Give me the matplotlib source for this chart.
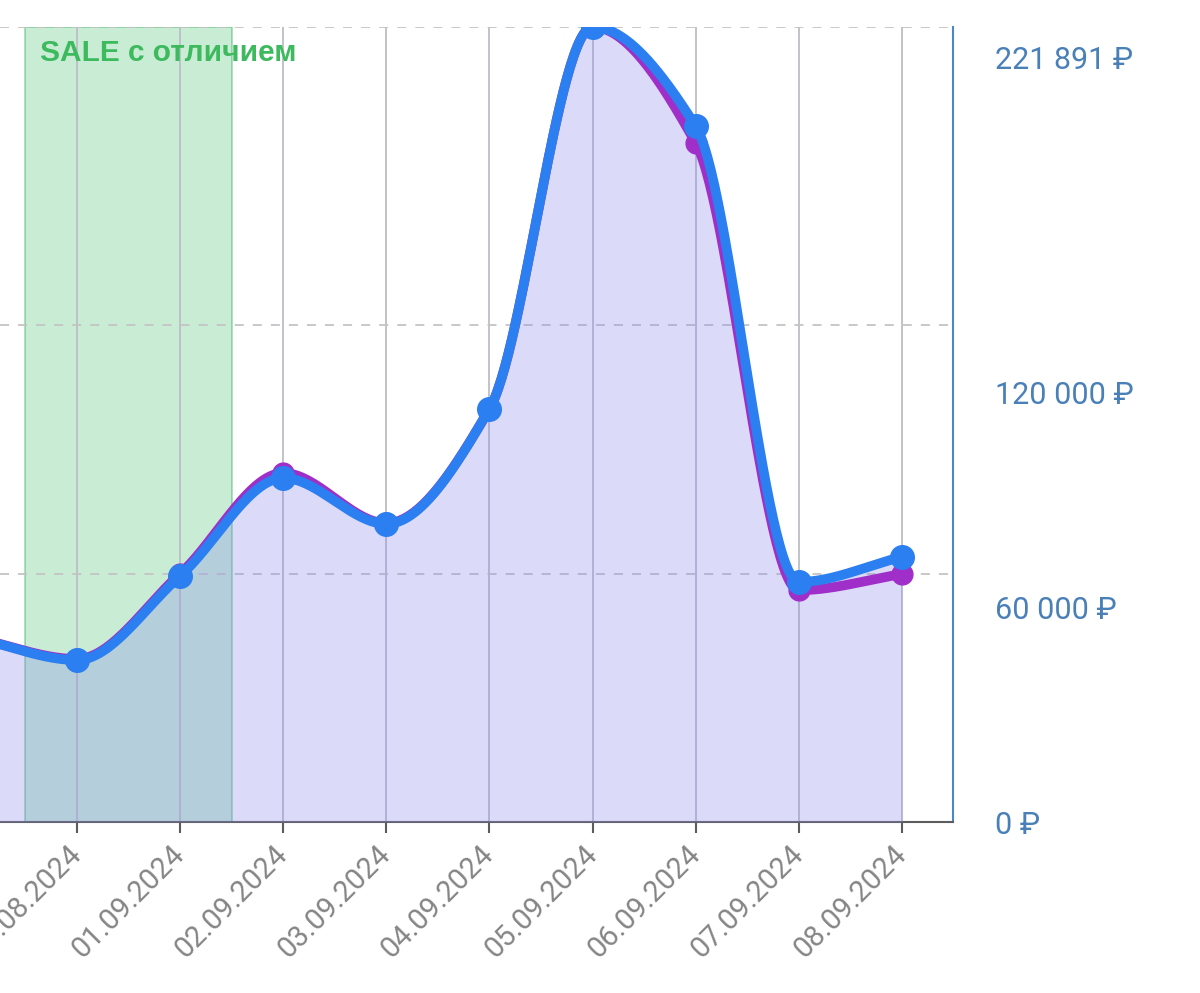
import numpy as np
import matplotlib
matplotlib.use("Agg")
import matplotlib.pyplot as plt

# ---- data ----
dates = ["30.08.2024", "31.08.2024", "01.09.2024", "02.09.2024", "03.09.2024",
         "04.09.2024", "05.09.2024", "06.09.2024", "07.09.2024", "08.09.2024"]
revenue_blue = [51500, 45200, 68700, 96000, 83200, 115300, 221891, 194200, 67000, 74000]
revenue_purple = [51500, 45500, 69300, 97400, 83400, 115300, 221891, 189500, 64700, 69200]
ytick_values = [0, 60000, 120000]
ytick_labels = ["0 ₽", "60 000 ₽", "120 000 ₽"]
ymax_value = 221891
ymax_label = "221 891 ₽"
grid_values = [69300, 138700, 221891]
sale_start, sale_end = "31.08.2024", "01.09.2024"
sale_label = "SALE с отличием"

plt.rcParams['font.family'] = ['Roboto', 'DejaVu Sans']


def monotone_curve(x, y, n=60):
    x = np.asarray(x, float)
    y = np.asarray(y, float)
    h = np.diff(x)
    d = np.diff(y) / h
    m = np.zeros_like(y)
    m[0], m[-1] = d[0], d[-1]
    for k in range(1, len(y) - 1):
        if d[k - 1] * d[k] <= 0:
            m[k] = 0.0
        else:
            w1 = 2 * h[k] + h[k - 1]
            w2 = h[k] + 2 * h[k - 1]
            m[k] = (w1 + w2) / (w1 / d[k - 1] + w2 / d[k])
    xs, ys = [], []
    for k in range(len(h)):
        t = np.linspace(0, 1, n, endpoint=(k == len(h) - 1))
        h00 = 2 * t**3 - 3 * t**2 + 1
        h10 = t**3 - 2 * t**2 + t
        h01 = -2 * t**3 + 3 * t**2
        h11 = t**3 - t**2
        xs.append(x[k] + t * h[k])
        ys.append(h00 * y[k] + h10 * h[k] * m[k] + h01 * y[k + 1] + h11 * h[k] * m[k + 1])
    return np.concatenate(xs), np.concatenate(ys)


fig = plt.figure(figsize=(12, 9.93), dpi=100)
ax = fig.add_axes([0.0, 1 - 822 / 993, 953 / 1200, (822 - 27) / 993])

x = np.arange(len(dates))
i0 = dates.index(sale_start)
i1 = dates.index(sale_end)

# sale region
ax.axvspan(i0 - 0.5, i1 + 0.5, facecolor=(46/255, 184/255, 92/255, 0.26),
           edgecolor=(46/255, 170/255, 92/255, 0.45), lw=1.2, zorder=1)

# grid
for xi in x:
    ax.axvline(xi, color='#bdbdc6', lw=1.3, zorder=2)
for gv in grid_values:
    ax.axhline(gv, color='#c4c4c4', lw=1.3, ls=(0, (5, 5)), zorder=2)

# curves
xb, yb = monotone_curve(x, revenue_blue)
xp, yp = monotone_curve(x, revenue_purple)
ax.fill_between(xb, 0, yb, color=(138/255, 138/255, 238/255, 0.30), lw=0, zorder=3)
ax.plot(xp, yp, color='#a02fc9', lw=7, solid_capstyle='round', zorder=4)
ax.plot(x, revenue_purple, 'o', color='#a02fc9', ms=15, zorder=4)
ax.plot(xb, yb, color='#2b7ff0', lw=7, solid_capstyle='round', zorder=5)
ax.plot(x, revenue_blue, 'o', color='#2b7ff0', ms=17, zorder=5)

ax.set_xlim(0.253, 9.495)
ax.set_ylim(0, ymax_value)

# spines
for s in ['left', 'top']:
    ax.spines[s].set_visible(False)
ax.spines['bottom'].set_color('#5c5c5c')
ax.spines['bottom'].set_linewidth(1.5)
ax.spines['right'].set_color('#4a88c8')
ax.spines['right'].set_linewidth(1.5)

# x ticks
ax.set_xticks(x[1:])
ax.set_xticklabels(dates[1:], rotation=45, ha='right', va='center',
                   rotation_mode='anchor', fontsize=21, color='#858585')
ax.tick_params(axis='x', length=8, width=1.5, color='#5c5c5c', pad=12)

# y ticks on the right
ax.yaxis.tick_right()
ax.set_yticks(ytick_values)
ax.set_yticklabels(ytick_labels, fontsize=22, color='#4a80b8')
ax.tick_params(axis='y', length=0, pad=30)
ax.annotate(ymax_label, xy=(1, ymax_value), xycoords=('axes fraction', 'data'),
            xytext=(30, -24), textcoords='offset points', ha='left', va='center',
            fontsize=22, color='#4a80b8', annotation_clip=False)

fig.text(40 / 1200, 1 - 53 / 993, sale_label, fontsize=21.5, fontweight='bold',
         color='#3dba5e', family=['Liberation Sans', 'DejaVu Sans'], va='center', ha='left')

fig.savefig('out.png', dpi=100)
